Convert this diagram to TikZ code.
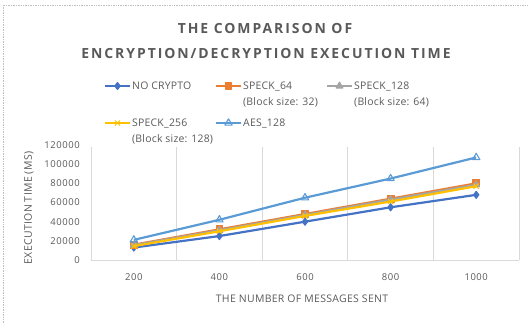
\documentclass[tikz,border=0pt]{standalone}
\usepackage{fontspec}
\setmainfont{Open Sans}
\usetikzlibrary{plotmarks}
\definecolor{chartgray}{HTML}{595959}
\definecolor{gridgray}{HTML}{D9D9D9}
\definecolor{framegray}{HTML}{BFBFBF}
\definecolor{seriesblue}{HTML}{4472C4}
\definecolor{seriesorange}{HTML}{ED7D31}
\definecolor{seriesgray}{HTML}{A5A5A5}
\definecolor{seriesyellow}{HTML}{FFC000}
\definecolor{serieslightblue}{HTML}{5B9BD5}

% one legend key: left x, y, series style, node name, text
\newcommand{\legkey}[5]{%
  \draw[#3] (#1,#2) -- (#1+25,#2);
  \path[#3, only marks] plot coordinates {(#1+12.5,#2)};
  \node[legtext] (#4) at (#1+27,#2-4.4) {#5};
}

\begin{document}
\begin{tikzpicture}[x=1bp, y=-1bp,
    title/.style   = {font=\bfseries\fontsize{14}{16}\selectfont\addfontfeatures{LetterSpace=14},
                      text=chartgray},
    legtext/.style = {anchor=north west, inner sep=0pt, align=left, text=chartgray,
                      font=\fontsize{10.5}{16}\selectfont\addfontfeatures{LetterSpace=2}},
    tick/.style    = {text=chartgray, inner sep=0pt,
                      font=\fontsize{9.5}{10}\selectfont\addfontfeatures{LetterSpace=6}},
    axtitle/.style = {text=chartgray, inner sep=0pt,
                      font=\fontsize{10.5}{12}\selectfont\addfontfeatures{LetterSpace=3}},
    grid/.style    = {draw=gridgray, line width=0.8bp},
    series/.style  = {line width=2.2bp, line join=round, mark options={solid, line width=1bp}},
    nocrypto/.style = {series, seriesblue, mark=diamond*, mark size=3.6bp},
    speck64/.style  = {series, seriesorange, mark=square*, mark size=3.4bp},
    speck128/.style = {series, seriesgray, mark=triangle*, mark size=4bp},
    speck256/.style = {series, seriesyellow, mark=x, mark size=3.6bp},
    aes128/.style   = {series, serieslightblue, mark=triangle, mark size=4.2bp,
                       mark options={fill=white, line width=1.1bp}},
  ]
  \useasboundingbox (0,0) rectangle (528,323);

  %% chart frame
  \begin{scope}
    \clip (0,0) rectangle (528,323);
    \draw[framegray, densely dotted, line width=0.7bp] (3,5) rectangle (540,340);
  \end{scope}

  %% title
  \node[title] (title1) at (265,29) {THE COMPARISON OF};
  \node[title] (title2) at (266,54) {ENCRYPTION/DECRYPTION EXECUTION TIME};

  %% legend
  \legkey{105}{86}{nocrypto}{legnc}{NO CRYPTO}
  \legkey{216}{86}{speck64}{leg64}{SPECK\_64\\(Block size: 32)}
  \legkey{327}{86}{speck128}{leg128}{SPECK\_128\\(Block size: 64)}
  \legkey{105}{123}{speck256}{leg256}{SPECK\_256\\(Block size: 128)}
  \legkey{216}{123}{aes128}{legaes}{AES\_128}

  %% grid and axis
  \foreach \i in {0,...,5}
    \draw[grid] (91+85.6*\i,147) -- (91+85.6*\i,260);
  \draw[grid] (91,260) -- (519,260);

  \foreach \v [count=\k from 0] in {0,20000,40000,60000,80000,100000,120000}
    \node[tick, anchor=east] (ytick\k) at (80,260-19.17*\k) {\v};
  \foreach \m [count=\k from 0] in {200,400,600,800,1000}
    \node[tick] (xtick\k) at (133.8+85.6*\k,277) {\m};

  \node[axtitle] (xtitle) at (302,299) {THE NUMBER OF MESSAGES SENT};
  \node[axtitle, rotate=90] (ytitle) at (29,208) {EXECUTION TIME (MS)};

  %% data, values in thousands
  \begin{scope}[shift={(133.8,260)}, x=85.6bp, y=0.9583bp]
    \draw[nocrypto] plot coordinates {(0,13) (1,25) (2,40) (3,55) (4,68)};
    \draw[speck64]  plot coordinates {(0,16) (1,32) (2,48) (3,64) (4,80)};
    \draw[speck128] plot coordinates {(0,15.5) (1,31) (2,47) (3,63) (4,78.5)};
    \draw[speck256] plot coordinates {(0,14.5) (1,30) (2,46) (3,61) (4,77)};
    \draw[aes128]   plot coordinates {(0,21) (1,42) (2,65) (3,85) (4,107)};
  \end{scope}

\end{tikzpicture}
\end{document}
